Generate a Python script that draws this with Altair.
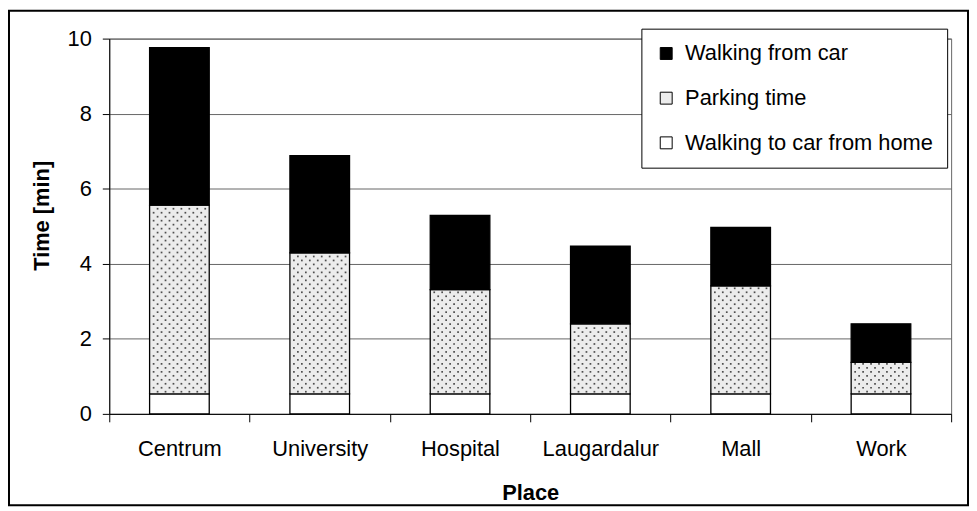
import altair as alt
import pandas as pd

# ---- data ----
places = ["Centrum", "University", "Hospital", "Laugardalur", "Mall", "Work"]
walk_to_car = [0.53, 0.53, 0.53, 0.53, 0.53, 0.53]
parking_time = [5.03, 3.76, 2.78, 1.87, 2.88, 0.84]
walk_from_car = [4.20, 2.59, 1.98, 2.07, 1.56, 1.03]
series_names = ["Walking to car from home", "Parking time", "Walking from car"]
legend_order = ["Walking from car", "Parking time", "Walking to car from home"]
y_ticks = [0, 2, 4, 6, 8, 10]

rows = []
for s_i, (name, vals) in enumerate(zip(series_names, [walk_to_car, parking_time, walk_from_car])):
    for p, v in zip(places, vals):
        rows.append({"Place": p, "Component": name, "Time": v, "stack_order": s_i})
df = pd.DataFrame(rows)

# table for the dotted texture of the "Parking time" segments
pattern_df = pd.DataFrame({
    "idx": list(range(len(places))),
    "lo": walk_to_car,
    "hi": [a + b for a, b in zip(walk_to_car, parking_time)],
})

FONT = "Liberation Sans"
fills = ["#000000", "#ececec", "#ffffff"]
BAND = 848 / 6

bars = alt.Chart(df).mark_bar(
    width=alt.RelativeBandSize(0.425), stroke="black", strokeWidth=1.3
).encode(
    x=alt.X(
        "Place:N", sort=places,
        scale=alt.Scale(paddingInner=0, paddingOuter=0),
        axis=alt.Axis(
            title="Place", labelAngle=0, tickBand="extent", ticks=True, tickSize=8,
            tickColor="black", domainColor="black", labelFontSize=22, labelPadding=17,
            labelColor="black", titleFontSize=22, titleFontWeight="bold",
            titleY=86, titleBaseline="alphabetic", titleColor="black", grid=False,
        ),
    ),
    y=alt.Y(
        "Time:Q", stack="zero",
        scale=alt.Scale(domain=[0, 10], nice=False),
        axis=alt.Axis(
            title="Time [min]", values=y_ticks, tickSize=7, tickColor="black",
            domainColor="black", labelFontSize=22, labelPadding=11, labelColor="black",
            grid=True, gridColor="#666666", gridWidth=1,
            titleFontSize=22, titleFontWeight="bold", titleColor="black",
            titleX=-61, titleY=178, titleAlign="center", titleBaseline="alphabetic",
        ),
    ),
    color=alt.Color(
        "Component:N",
        scale=alt.Scale(domain=legend_order, range=fills),
        legend=alt.Legend(
            orient="none", legendX=536, legendY=-10, title=None,
            symbolType="square", symbolSize=144, symbolStrokeColor="black",
            symbolStrokeWidth=1, labelFontSize=22, labelColor="black", labelLimit=400,
            rowPadding=23, padding=14, strokeColor="black", fillColor="white",
            labelOffset=8,
        ),
    ),
    order=alt.Order("stack_order:Q"),
)

# dotted texture inside the "Parking time" segments (own x scale, no axis)
dots = alt.Chart(pattern_df).transform_calculate(
    ys="sequence(datum.lo + 0.06, datum.hi - 0.03, 0.106)"
).transform_flatten(["ys"]).transform_calculate(
    r="round((datum.ys - datum.lo) / 0.106)"
).transform_calculate(
    px="sequence(-26 + (datum.r % 2) * 4, 27, 8)"
).transform_flatten(["px"]).transform_calculate(
    xs=f"datum.idx + 0.5 + datum.px / {BAND}"
).mark_square(
    size=3, color="#333333", opacity=0.85
).encode(
    x=alt.X("xs:Q", scale=alt.Scale(domain=[0, len(places)], nice=False, zero=False), axis=None),
    y=alt.Y("ys:Q"),
)

frame = alt.Chart(pd.DataFrame({"k": [0]})).mark_rect(
    fill="white", fillOpacity=0, stroke="black", strokeWidth=2, clip=False
).encode(
    x=alt.value(-101), x2=alt.value(865), y=alt.value(-28), y2=alt.value(470)
)

chart = alt.layer(bars, dots, frame).resolve_scale(
    x="independent"
).properties(
    width=848, height=378,
    autosize=alt.AutoSizeParams(type="none"),
    padding={"left": 102, "top": 29, "right": 18, "bottom": 94},
).configure_view(
    stroke="#666666", strokeWidth=1
).configure_axis(
    labelFont=FONT, titleFont=FONT
).configure_legend(
    labelFont=FONT
)

chart.save("out.html", embed_options={"renderer": "svg", "actions": False})
